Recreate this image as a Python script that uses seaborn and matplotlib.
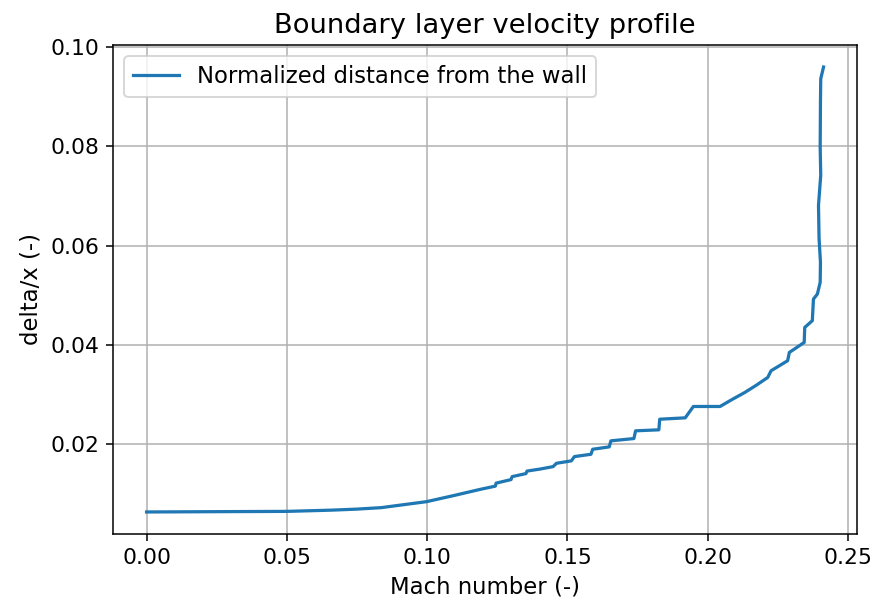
import matplotlib
matplotlib.use("Agg")
import matplotlib.pyplot as plt
import pandas as pd
import seaborn as sns

# Boundary layer profile: Mach number vs normalized wall distance
mach = [
    0.0000, 0.0501, 0.0660, 0.0748, 0.0836, 0.0998, 0.1094, 0.1190,
    0.1243, 0.1246, 0.1299, 0.1303, 0.1352, 0.1356, 0.1402, 0.1449,
    0.1461, 0.1514, 0.1525, 0.1584, 0.1590, 0.1649, 0.1655, 0.1737,
    0.1743, 0.1826, 0.1829, 0.1920, 0.1949, 0.2044, 0.2087, 0.2132,
    0.2172, 0.2214, 0.2226, 0.2285, 0.2291, 0.2344, 0.2346, 0.2373,
    0.2377, 0.2391, 0.2401, 0.2402, 0.2397, 0.2395, 0.2403, 0.2401,
    0.2402, 0.2403, 0.2413,
]
delta_x = [
    0.00626, 0.00638, 0.00663, 0.00683, 0.00713, 0.00834, 0.00956, 0.01083,
    0.01147, 0.01208, 0.01279, 0.01339, 0.01400, 0.01451, 0.01491, 0.01541,
    0.01608, 0.01657, 0.01743, 0.01790, 0.01891, 0.01939, 0.02061, 0.02107,
    0.02263, 0.02283, 0.02497, 0.02525, 0.02754, 0.02754, 0.02895, 0.03036,
    0.03178, 0.03339, 0.03475, 0.03677, 0.03844, 0.04046, 0.04349, 0.04485,
    0.04921, 0.05022, 0.05259, 0.05663, 0.06147, 0.06814, 0.07420, 0.07986,
    0.08895, 0.09366, 0.09602,
]

df = pd.DataFrame({"mach": mach, "delta_x": delta_x})

plt.rcParams.update({
    "font.size": 12,
    "axes.titlesize": 14.4,
    "axes.labelsize": 12,
    "xtick.labelsize": 11.5,
    "ytick.labelsize": 11.5,
    "legend.fontsize": 12,
})

fig = plt.figure(figsize=(874 / 136.8, 605 / 136.8), dpi=136.8)
ax = fig.add_axes([0.129, 0.117, 0.852, 0.809])

sns.lineplot(
    data=df, x="mach", y="delta_x", sort=False, estimator=None,
    color="#1f77b4", linewidth=1.7, ax=ax,
    label="Normalized distance from the wall",
)

ax.grid(True, color="#b0b0b0", linewidth=0.8)
ax.set_axisbelow(True)
ax.set_xticks([0.00, 0.05, 0.10, 0.15, 0.20, 0.25])
ax.set_yticks([0.02, 0.04, 0.06, 0.08, 0.10])
ax.set_xlabel("Mach number (-)")
ax.set_ylabel("delta/x (-)")
ax.set_title("Boundary layer velocity profile")
ax.legend(loc="upper left")

fig.savefig("out.png", dpi=136.8)
